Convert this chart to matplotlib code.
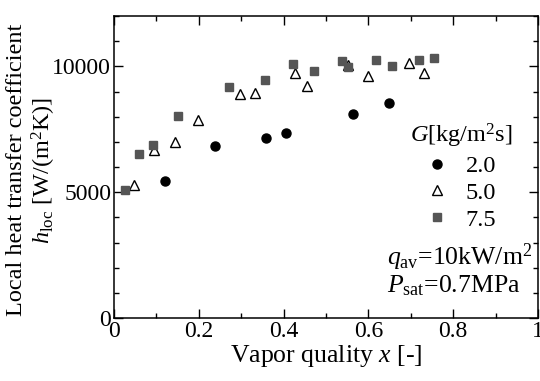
import matplotlib
matplotlib.use("Agg")
import matplotlib.pyplot as plt
from matplotlib.ticker import MultipleLocator

plt.rcParams['font.family'] = ['Liberation Serif', 'DejaVu Serif']
plt.rcParams['mathtext.fontset'] = 'custom'
plt.rcParams['mathtext.rm'] = 'Liberation Serif'
plt.rcParams['mathtext.it'] = 'Liberation Serif:italic'
plt.rcParams['mathtext.bf'] = 'Liberation Serif:bold'

# G = 2.0 kg/m2s
x_g20 = [0.121, 0.239, 0.359, 0.406, 0.564, 0.649]
h_g20 = [5440, 6840, 7140, 7370, 8110, 8530]
# G = 5.0 kg/m2s
x_g50 = [0.046, 0.094, 0.143, 0.199, 0.296, 0.332, 0.427, 0.456, 0.553, 0.598, 0.696, 0.732]
h_g50 = [5290, 6690, 7010, 7860, 8920, 8930, 9730, 9210, 10040, 9620, 10150, 9730]
# G = 7.5 kg/m2s
x_g75 = [0.027, 0.060, 0.093, 0.150, 0.272, 0.355, 0.421, 0.472, 0.538, 0.553, 0.617, 0.655, 0.720, 0.755]
h_g75 = [5080, 6520, 6880, 8030, 9190, 9470, 10080, 9830, 10210, 9980, 10250, 10010, 10240, 10320]

labels = ['2.0', '5.0', '7.5']

fig = plt.figure(figsize=(5.40, 3.81), dpi=100)
ax = fig.add_axes([114/540, 1-318/381, (538-114)/540, (318-16)/381])

h1, = ax.plot(x_g20, h_g20, 'o', color='black', ms=6.5, ls='none', label=labels[0])
h2, = ax.plot(x_g50, h_g50, '^', mfc='white', mec='black', mew=1.0, ms=7.0, ls='none', label=labels[1])
h3, = ax.plot(x_g75, h_g75, 's', color='#555555', ms=6.2, ls='none', label=labels[2])

ax.set_xlim(0, 1)
ax.set_ylim(0, 12000)
ax.xaxis.set_major_locator(MultipleLocator(0.2))
ax.xaxis.set_minor_locator(MultipleLocator(0.1))
ax.yaxis.set_major_locator(MultipleLocator(5000))
ax.yaxis.set_minor_locator(MultipleLocator(1000))
ax.set_xticks([0, 0.2, 0.4, 0.6, 0.8, 1.0])
ax.set_xticklabels(['0', '0.2', '0.4', '0.6', '0.8', '1'])
ax.tick_params(which='both', direction='in', top=True, right=True, width=1.0, labelsize=17.0, pad=2)
ax.tick_params(which='major', length=6.5)
ax.tick_params(which='minor', length=3.8)
for s in ax.spines.values():
    s.set_linewidth(1.1)

ax.set_xlabel(r'Vapor quality $x$ [-]', fontsize=18.5, labelpad=1)
ax.set_ylabel('Local heat transfer coefficient\n' + r'$h_{\rm loc}$ [W/(m$^2$K)]',
              fontsize=17.5, linespacing=1.1)
ax.yaxis.set_label_coords(-0.133, 0.49)

leg = ax.legend(handles=[h1, h2, h3], title=r'$G$[kg/m$^2$s]', frameon=False,
                fontsize=17.5, title_fontsize=17.5, handlelength=0.9, handletextpad=0.75,
                labelspacing=0.2, borderpad=0, borderaxespad=0,
                loc='upper center', bbox_to_anchor=(461/540, 1-122/381),
                bbox_transform=fig.transFigure)

ax.text(0.644, 0.175, r'$q_{\rm av}$=10kW/m$^2$', transform=ax.transAxes,
        fontsize=18.5, va='baseline', ha='left')
ax.text(0.644, 0.086, r'$P_{\rm sat}$=0.7MPa', transform=ax.transAxes,
        fontsize=18.5, va='baseline', ha='left')

fig.savefig('out.png', dpi=100)
